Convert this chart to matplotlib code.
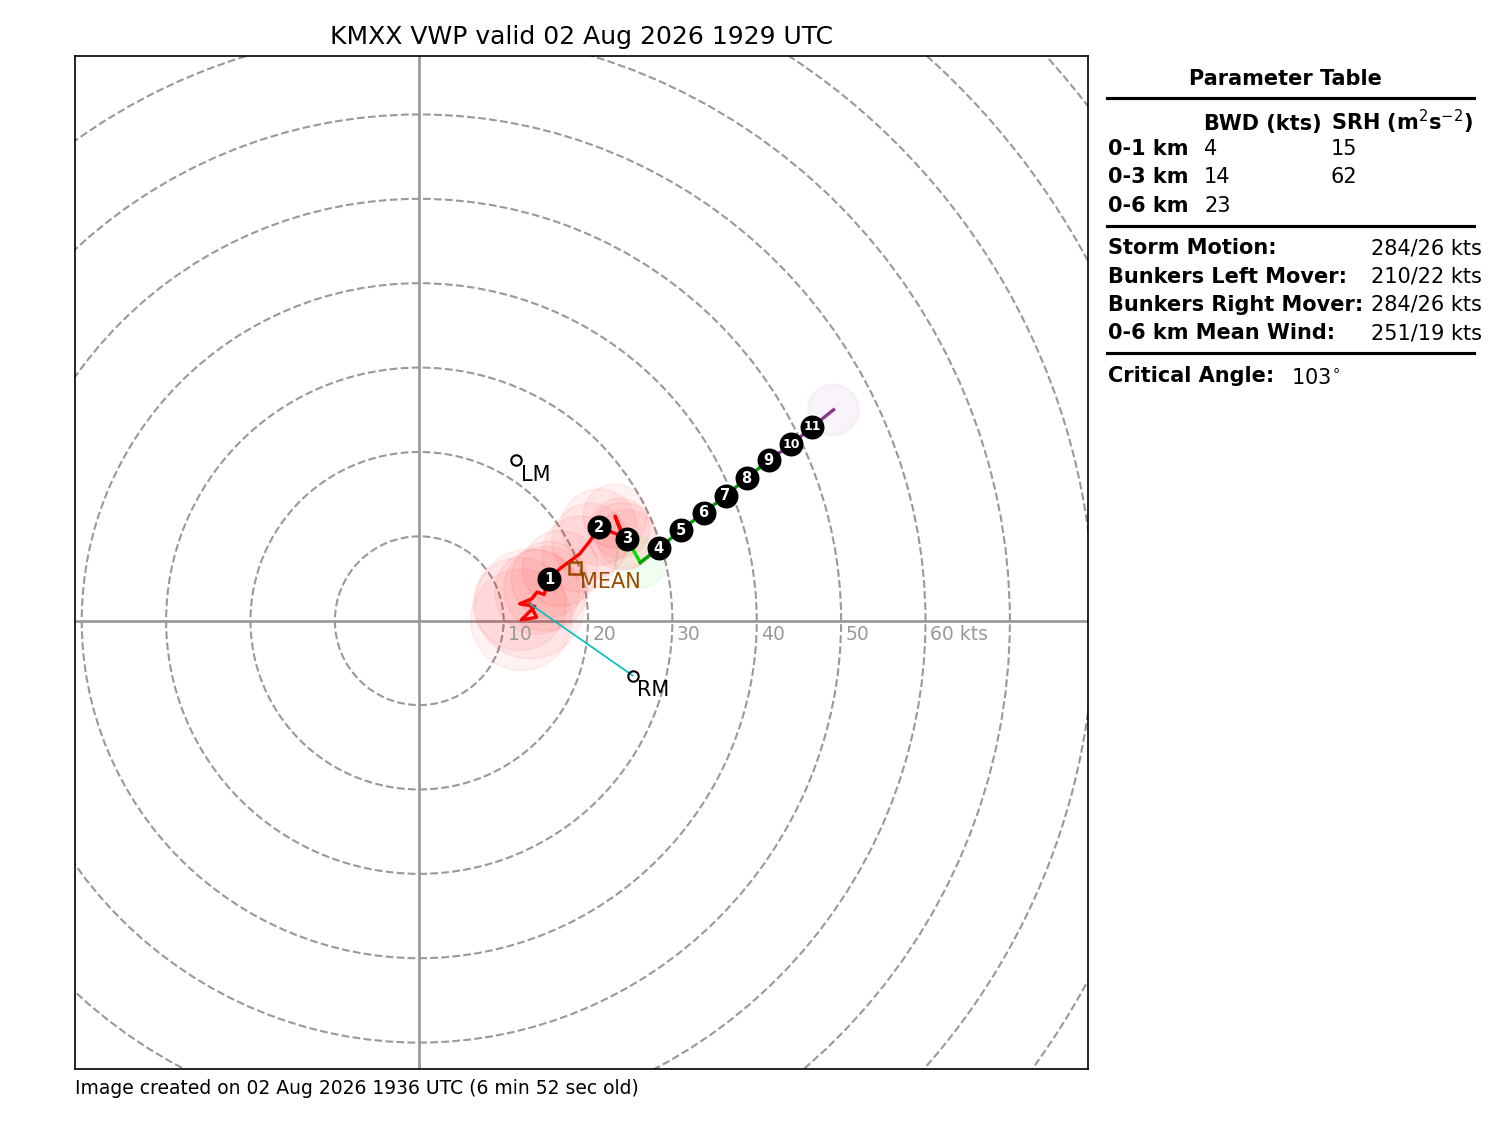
import matplotlib
matplotlib.use("Agg")
import matplotlib.pyplot as plt
from matplotlib.patches import Circle
from matplotlib.lines import Line2D
import numpy as np

TITLE = "KMXX VWP valid 02 Aug 2026 1929 UTC"
FOOTER = "Image created on 02 Aug 2026 1936 UTC (6 min 52 sec old)"

# hodograph (height km, u/v kts, rms error kts; 0 = no circle drawn)
hgt = [0.0, 0.1, 0.2, 0.3, 0.4, 0.5, 0.6, 0.7, 0.8, 1.0, 1.3, 1.6, 1.8, 2.0, 2.3, 2.6, 2.8, 3.0,
       3.5, 4.0, 5.0, 6.0, 7.0, 8.0, 9.0, 10.0, 11.0, 11.5]
u = [13.1, 13.9, 12.1, 13.7, 11.9, 13.35, 13.95, 14.8, 15.0, 15.4, 16.7, 19.0, 20.2, 21.3, 24.1, 23.2, 23.8, 24.6,
     26.2, 28.4, 31.0, 33.7, 36.3, 38.8, 41.4, 44.1, 46.6, 49.1]
v = [2.0, 0.4, 0.1, 1.7, 2.0, 2.6, 3.4, 3.1, 3.8, 4.9, 6.2, 7.9, 9.4, 11.1, 10.0, 12.4, 11.0, 9.7,
     6.9, 8.6, 10.7, 12.8, 14.8, 16.9, 19.0, 20.9, 23.0, 25.0]
rms = [6.5, 0, 6.0, 0, 5.5, 0, 5.0, 0, 5.0, 4.5, 4.5, 4.5, 4.5, 4.5, 4.0, 3.8, 3.5, 3.5,
       3.0, 0, 0, 0, 0, 0, 0, 0, 0, 3.0]

# layer colours: (bottom km, top km, colour)
layers = [(0.0, 3.0, "#ff0000"), (3.0, 3.5, "#00dd00"), (3.5, 9.0, "#00a000"), (9.0, 12.0, "#8b3a8b")]

lm_u, lm_v = 11.5, 19.0
rm_u, rm_v = 25.3, -6.5
mean_u, mean_v = 18.45, 6.3

ring_radii = list(range(10, 130, 10))
ring_labels = {10: "10", 20: "20", 30: "30", 40: "40", 50: "50", 60: "60 kts"}

table_rows = [("0-1 km", "4", "15"), ("0-3 km", "14", "62"), ("0-6 km", "23", "")]
motion_rows = [("Storm Motion:", "284/26 kts"),
               ("Bunkers Left Mover:", "210/22 kts"),
               ("Bunkers Right Mover:", "284/26 kts"),
               ("0-6 km Mean Wind:", "251/19 kts")]
crit_angle = "103$^{\\circ}$"

fig = plt.figure(figsize=(10, 7.5), dpi=150)
ax = fig.add_axes([0.05, 0.05, 0.675, 0.9])

ax.axvline(0, color="#999999", lw=1.3, zorder=1)
ax.axhline(0, color="#999999", lw=1.3, zorder=1)
for r in ring_radii:
    ax.add_patch(Circle((0, 0), r, ls="--", fc="none", ec="#999999", lw=1, zorder=1))
    if r in ring_labels:
        ax.text(r + 0.5, -0.5, ring_labels[r], ha="left", va="top", fontsize=9, color="#999999")

hgt_a = np.array(hgt)
u_a = np.array(u)
v_a = np.array(v)
for bot, top, col in layers:
    sel = (hgt_a >= bot) & (hgt_a <= top)
    ax.plot(u_a[sel], v_a[sel], color=col, lw=1.6, zorder=3)

# uncertainty circles, coloured by the layer the point sits in
for uu, vv, rr, hh in zip(u_a, v_a, rms, hgt_a):
    if rr <= 0:
        continue
    col = next(c for b, t, c in layers if hh <= t)
    ax.add_patch(Circle((uu, vv), rr, color=col, alpha=0.05, zorder=2))

ax.plot([u[0], rm_u], [v[0], rm_v], color="c", lw=0.8, zorder=3)

for uu, vv, hh in zip(u, v, hgt):
    if hh > 0 and float(hh).is_integer():
        ax.plot(uu, vv, "ko", ms=10.5, zorder=5)
        ax.text(uu, vv, "%d" % hh, ha="center", va="center", color="white",
                fontsize=7 if hh < 10 else 6, fontweight="bold", zorder=6)

ax.plot(lm_u, lm_v, "ko", mfc="none", ms=5, mew=1, zorder=4)
ax.text(lm_u + 0.5, lm_v - 0.5, "LM", ha="left", va="top", fontsize=10)
ax.plot(rm_u, rm_v, "ko", mfc="none", ms=5, mew=1, zorder=4)
ax.text(rm_u + 0.5, rm_v - 0.5, "RM", ha="left", va="top", fontsize=10)
ax.plot(mean_u, mean_v, "s", color="#994c00", mfc="none", ms=5.5, mew=1.2, zorder=4)
ax.text(mean_u + 0.6, mean_v - 0.5, "MEAN", ha="left", va="top", fontsize=10, color="#994c00")

ax.set_xlim(-40.8, 79.2)
ax.set_ylim(-53.1, 66.9)
ax.set_xticks([])
ax.set_yticks([])
ax.set_title(TITLE, fontsize=12)

fig.text(75 / 1500, 1 - 1094 / 1125, FOOTER, ha="left", va="baseline", fontsize=9)


def fx(px):
    return px / 1500


def fy(py):
    return 1 - py / 1125


def hline(py):
    fig.add_artist(Line2D([fx(1107), fx(1474)], [fy(py), fy(py)], color="k", lw=1.5))


fig.text(fx(1285), fy(85), "Parameter Table", ha="center", va="baseline", fontsize=10, fontweight="bold")
hline(98)
fig.text(fx(1204), fy(130), "BWD (kts)", ha="left", va="baseline", fontsize=10, fontweight="bold")
fig.text(fx(1331), fy(130), "SRH (m$^2$s$^{-2}$)", ha="left", va="baseline",
         fontsize=10, fontweight="bold")
for i, (lab, bwd, srh) in enumerate(table_rows):
    y = 155 + i * 28.3
    fig.text(fx(1108), fy(y), lab, ha="left", va="baseline", fontsize=10, fontweight="bold")
    fig.text(fx(1204), fy(y), bwd, ha="left", va="baseline", fontsize=10)
    fig.text(fx(1331), fy(y), srh, ha="left", va="baseline", fontsize=10)
hline(226)
for i, (lab, val) in enumerate(motion_rows):
    y = 254.5 + i * 28.2
    fig.text(fx(1108), fy(y), lab, ha="left", va="baseline", fontsize=10, fontweight="bold")
    fig.text(fx(1371), fy(y), val, ha="left", va="baseline", fontsize=10)
hline(353)
fig.text(fx(1108), fy(382), "Critical Angle:", ha="left", va="baseline", fontsize=10, fontweight="bold")
fig.text(fx(1291), fy(384), crit_angle, ha="left", va="baseline", fontsize=10)

fig.savefig("out.png", dpi=150)
